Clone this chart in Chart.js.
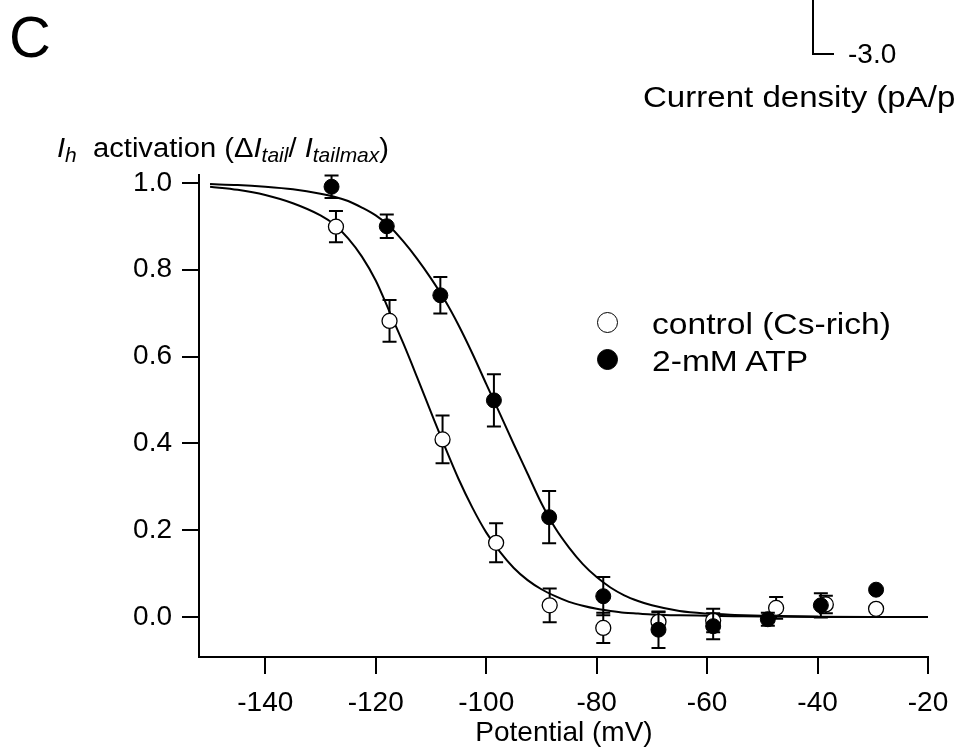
<!DOCTYPE html>
<html>
<head>
<meta charset="utf-8">
<script src="https://cdn.jsdelivr.net/npm/chart.js@4"></script>
<style>
  body { margin: 0; background: #fff; }
  #wrap { position: relative; width: 954px; height: 754px; overflow: hidden; background: #fff;
          font-family: "Liberation Sans", Arial, sans-serif; color: #000; }
  #wrap canvas { position: absolute; left: 0; top: 0; }
  .txt { position: absolute; line-height: 1; white-space: nowrap; transform-origin: 0 0; }
  .txt sub { font-size: 72%; vertical-align: -0.28em; line-height: 0; }
  .dot { position: absolute; width: 21px; height: 21px; border: 1.5px solid #000; border-radius: 50%; box-sizing: border-box; }
</style>
</head>
<body>
<div id="wrap">
  <canvas id="ih" width="954" height="754"></canvas>
  <div class="txt" style="left:9px; top:8px; font-size:58px;">C</div>
  <div style="position:absolute; left:812px; top:0; width:20px; height:53px; border-left:2px solid #000; border-bottom:2px solid #000;"></div>
  <div class="txt" style="left:848px; top:40px; font-size:28px;">-3.0</div>
  <div class="txt" style="left:643px; top:83px; font-size:29px; transform:scaleX(1.14);">Current density (pA/pF)</div>
  <div class="txt" style="left:57px; top:135px; font-size:27px; transform:scaleX(1.08);"><i>I</i><sub><i>h</i></sub>&nbsp; activation (&Delta;<i>I</i><sub><i>tail</i></sub>/ <i>I</i><sub><i>tailmax</i></sub>)</div>
  <div class="txt" style="left:564px; top:718px; font-size:28px; transform:translateX(-50%);">Potential (mV)</div>
  <div class="dot" style="left:597px; top:312px; background:#fff;"></div>
  <div class="dot" style="left:597px; top:349px; background:#000;"></div>
  <div class="txt" style="left:652px; top:309px; font-size:30px; transform:scaleX(1.12);">control (Cs-rich)</div>
  <div class="txt" style="left:652px; top:346px; font-size:30px; transform:scaleX(1.12);">2-mM ATP</div>
</div>
<script>
// measured points (mV, normalised tail current, SEM)
const controlV = [-127.2, -117.5, -107.9, -98.2, -88.5, -78.8, -68.8, -58.9, -47.5, -38.5, -29.4];
const controlY = [0.899, 0.682, 0.409, 0.171, 0.027, -0.025, -0.011, -0.008, 0.021, 0.029, 0.019];
const controlErr = [0.036, 0.048, 0.055, 0.045, 0.039, 0.035, 0.022, 0.027, 0.025, 0.02, 0];

const atpV = [-128, -118, -108.3, -98.6, -88.6, -78.8, -68.8, -58.9, -49, -39.4, -29.4];
const atpY = [0.991, 0.900, 0.741, 0.499, 0.230, 0.048, -0.029, -0.021, -0.005, 0.027, 0.063];
const atpErr = [0.026, 0.027, 0.042, 0.06, 0.06, 0.044, 0.042, 0.03, 0.015, 0.028, 0];

// fitted curves
const fitV = [-150, -145, -140, -135, -130, -127.5, -125, -122.5, -120, -117.5, -115, -112.5, -110,
  -107.5, -105, -102.5, -100, -97.5, -95, -92.5, -90, -87.5, -85, -82.5, -80, -77.5, -75, -72.5,
  -70, -65, -60, -55, -50, -40, -30, -20];
const controlFit = [0.991, 0.984, 0.972, 0.953, 0.925, 0.904, 0.872, 0.830, 0.775, 0.703, 0.630, 0.552, 0.472,
  0.393, 0.318, 0.252, 0.195, 0.150, 0.113, 0.085, 0.064, 0.048, 0.035, 0.026, 0.019, 0.014, 0.010, 0.008,
  0.006, 0.004, 0.003, 0.002, 0.001, 0, 0, 0];
const atpFit = [0.997, 0.995, 0.991, 0.985, 0.975, 0.968, 0.958, 0.943, 0.925, 0.900, 0.865, 0.825, 0.780,
  0.730, 0.672, 0.607, 0.537, 0.468, 0.398, 0.330, 0.262, 0.205, 0.160, 0.122, 0.092, 0.068, 0.050, 0.037,
  0.027, 0.014, 0.008, 0.005, 0.003, 0.001, 0, 0];

const xTicks = [-140, -120, -100, -80, -60, -40, -20];
const yTicks = [0, 0.2, 0.4, 0.6, 0.8, 1.0];

const pts = (xs, ys) => xs.map((x, i) => ({ x: x, y: ys[i] }));
const font = { family: '"Liberation Sans", Arial, sans-serif', size: 28 };

// error bars are drawn just before their point set, so circles sit on top
const errorBars = {
  id: 'errorBars',
  beforeDatasetDraw(chart, args) {
    const errs = chart.data.datasets[args.index].errors;
    if (!errs) return;
    const xs = chart.scales.x, ys = chart.scales.y, c = chart.ctx;
    c.save();
    c.strokeStyle = '#000';
    c.lineWidth = 2;
    chart.data.datasets[args.index].data.forEach((p, i) => {
      if (!errs[i]) return;
      const px = xs.getPixelForValue(p.x);
      const top = ys.getPixelForValue(p.y + errs[i]);
      const bot = ys.getPixelForValue(p.y - errs[i]);
      c.beginPath();
      c.moveTo(px, top); c.lineTo(px, bot);
      c.moveTo(px - 7, top); c.lineTo(px + 7, top);
      c.moveTo(px - 7, bot); c.lineTo(px + 7, bot);
      c.stroke();
    });
    c.restore();
  }
};

new Chart(document.getElementById('ih'), {
  type: 'scatter',
  data: {
    datasets: [
      { label: '2-mM ATP', data: pts(atpV, atpY), errors: atpErr, order: 0,
        pointRadius: 7.5, backgroundColor: '#000', borderColor: '#000', borderWidth: 1 },
      { label: 'control (Cs-rich)', data: pts(controlV, controlY), errors: controlErr, order: 1,
        pointRadius: 7.5, backgroundColor: '#fff', borderColor: '#000', borderWidth: 1.3 },
      { label: 'ATP fit', type: 'line', data: pts(fitV, atpFit), order: 2, showLine: true,
        pointRadius: 0, borderColor: '#000', borderWidth: 2, cubicInterpolationMode: 'monotone', fill: false },
      { label: 'control fit', type: 'line', data: pts(fitV, controlFit), order: 3, showLine: true,
        pointRadius: 0, borderColor: '#000', borderWidth: 2, cubicInterpolationMode: 'monotone', fill: false }
    ]
  },
  options: {
    responsive: false,
    animation: false,
    layout: { padding: { left: 0, right: 26, top: 175, bottom: 0 } },
    plugins: { legend: { display: false }, tooltip: { enabled: false } },
    scales: {
      x: {
        type: 'linear', min: -152, max: -20,
        afterFit: (s) => { s.height = 97; s.paddingLeft = 0; s.paddingRight = 0; },
        afterBuildTicks: (s) => { s.ticks = xTicks.map(v => ({ value: v })); },
        grid: { drawOnChartArea: false, drawTicks: true, tickLength: 17, color: '#000', lineWidth: 2 },
        border: { color: '#000', width: 2 },
        ticks: { color: '#000', font: font, padding: 12, maxRotation: 0, callback: (v) => String(v) }
      },
      y: {
        type: 'linear', min: -0.092, max: 1.018,
        afterFit: (s) => { s.width = 199; s.paddingTop = 0; s.paddingBottom = 0; },
        afterBuildTicks: (s) => { s.ticks = yTicks.map(v => ({ value: v })); },
        grid: { drawOnChartArea: false, drawTicks: true, tickLength: 17, color: '#000', lineWidth: 2 },
        border: { color: '#000', width: 2 },
        ticks: { color: '#000', font: font, padding: 10, callback: (v) => v.toFixed(1) }
      }
    }
  },
  plugins: [errorBars]
});
</script>
</body>
</html>
